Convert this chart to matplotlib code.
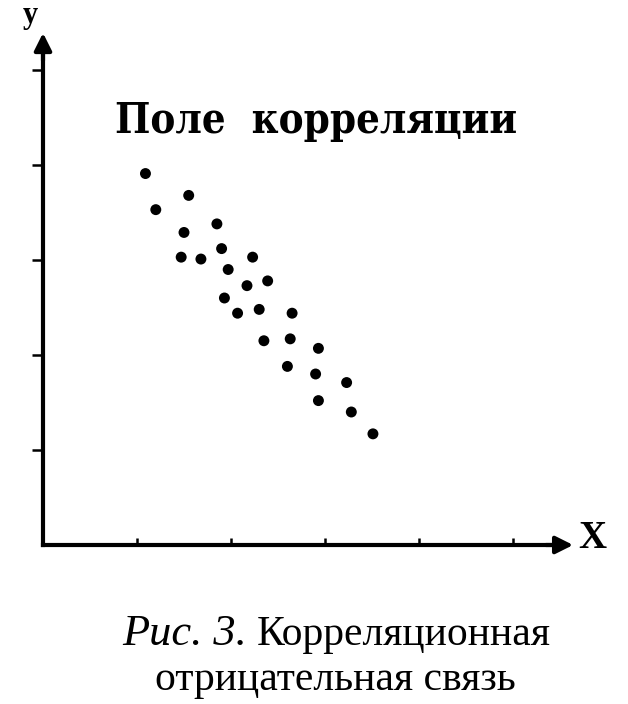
import matplotlib
matplotlib.use("Agg")
import matplotlib.pyplot as plt

# --- данные (поле корреляции, отрицательная связь) ---
x_vals = [1.09, 1.55, 1.20, 1.85, 1.50, 1.90, 1.47, 1.68, 2.23, 1.97, 2.39, 2.17, 1.93,
          2.07, 2.30, 2.65, 2.35, 2.63, 2.93, 2.60, 2.90, 3.23, 2.93, 3.28, 3.51]
y_vals = [3.91, 3.68, 3.53, 3.38, 3.29, 3.12, 3.03, 3.01, 3.03, 2.90, 2.78, 2.73, 2.60,
          2.44, 2.48, 2.44, 2.15, 2.17, 2.07, 1.88, 1.80, 1.71, 1.52, 1.40, 1.17]
x_ticks = [1, 2, 3, 4, 5]
y_ticks = [1, 2, 3, 4, 5]

title = "Поле  корреляции"
caption_it = "Рис. 3."
caption_1 = "Корреляционная"
caption_2 = "отрицательная связь"

W, H = 628, 704
fig = plt.figure(figsize=(W / 100, H / 100), dpi=100)
ax = fig.add_axes([0, 0, 1, 1])

# начало координат в (43, 545) пикселях, шаг ~94 по x и ~95 по y
ax.set_xlim(-43 / 94, (W - 43) / 94)
ax.set_ylim(-(H - 545) / 95, 545 / 95)

ax.scatter(x_vals, y_vals, s=62, color="black", edgecolors="none", zorder=3)

# оси
for side in ["top", "right"]:
    ax.spines[side].set_visible(False)
ax.spines["left"].set_position(("data", 0))
ax.spines["bottom"].set_position(("data", 0))
ax.spines["left"].set_bounds(0, 5.2)
ax.spines["bottom"].set_bounds(0, 5.45)
for side in ["left", "bottom"]:
    ax.spines[side].set_linewidth(3)
    ax.spines[side].set_capstyle("projecting")

ax.set_xticks(x_ticks)
ax.set_yticks(y_ticks)
ax.set_xticklabels([])
ax.set_yticklabels([])
ax.tick_params(axis="x", direction="in", length=5, width=1.8, color="black")
ax.tick_params(axis="y", direction="out", length=8, width=1.8, color="black")

# стрелки
ax.annotate("", xy=(0, 5.39), xytext=(0, 5.1),
            arrowprops=dict(arrowstyle="-|>", color="black", lw=3, mutation_scale=26,
                            shrinkA=0, shrinkB=0))
ax.annotate("", xy=(5.64, 0), xytext=(5.35, 0),
            arrowprops=dict(arrowstyle="-|>", color="black", lw=3, mutation_scale=26,
                            shrinkA=0, shrinkB=0))

ax.text(30 / W, 1 - 16 / H, "y", transform=fig.transFigure, ha="center", va="center",
        fontsize=22, fontweight="bold", family="Liberation Serif")
ax.text(592 / W, 1 - 539 / H, "X", transform=fig.transFigure, ha="center", va="center",
        fontsize=28, fontweight="bold", family="Liberation Serif")

# надписи
fig.text(115 / W, 1 - 133 / H, title, ha="left", va="baseline",
         fontsize=30, fontweight="bold", fontstretch="condensed", family="DejaVu Serif")

fig.text(122 / W, 1 - 645 / H, caption_it, ha="left", va="baseline",
         fontsize=32, style="italic", family="Liberation Serif")
fig.text(257 / W, 1 - 645 / H, caption_1, ha="left", va="baseline",
         fontsize=30, family="Liberation Serif")
fig.text(335 / W, 1 - 690 / H, caption_2, ha="center", va="baseline",
         fontsize=30, family="Liberation Serif")

fig.savefig("out.png", dpi=100, facecolor="white")
